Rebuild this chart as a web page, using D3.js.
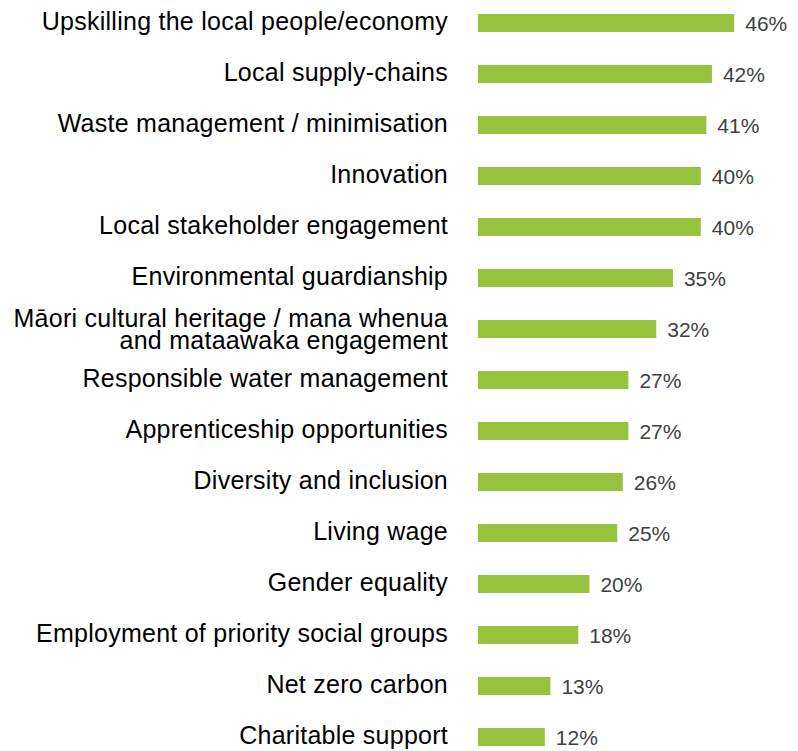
<!DOCTYPE html>
<html>
<head>
<meta charset="utf-8">
<script src="https://cdn.jsdelivr.net/npm/d3@7"></script>
<style>
  html, body { margin: 0; padding: 0; background: #fff; }
  svg { display: block; }
</style>
</head>
<body>
<svg id="chart" width="798" height="751"></svg>
<script>
// Share of respondents selecting each social/environmental outcome
const categories = [
  "Upskilling the local people/economy",
  "Local supply-chains",
  "Waste management / minimisation",
  "Innovation",
  "Local stakeholder engagement",
  "Environmental guardianship",
  "Māori cultural heritage / mana whenua\nand mataawaka engagement",
  "Responsible water management",
  "Apprenticeship opportunities",
  "Diversity and inclusion",
  "Living wage",
  "Gender equality",
  "Employment of priority social groups",
  "Net zero carbon",
  "Charitable support"
];
const values = [46, 42, 41, 40, 40, 35, 32, 27, 27, 26, 25, 20, 18, 13, 12];

const svg = d3.select("#chart");
const barLeft = 478;
const barH = 18;
const font = "Liberation Sans, Arial, sans-serif";

const x = d3.scaleLinear().domain([0, 100]).range([barLeft, barLeft + 557]);
const y = d3.scalePoint().domain(categories).range([23, 737]);

const rows = svg.selectAll("g.row")
  .data(categories.map((c, i) => ({ c, v: values[i] })))
  .join("g")
  .attr("class", "row");

rows.append("rect")
  .attr("x", x(0))
  .attr("y", d => y(d.c) - barH / 2)
  .attr("width", d => x(d.v) - x(0))
  .attr("height", barH)
  .attr("fill", "#97c23d");

rows.append("text")
  .attr("x", d => x(d.v) + 11)
  .attr("y", d => y(d.c))
  .attr("dy", "0.36em")
  .attr("font-family", font)
  .attr("font-size", 21)
  .attr("fill", "#404040")
  .text(d => d.v + "%");

rows.append("text")
  .attr("x", 448)
  .attr("y", d => y(d.c))
  .attr("text-anchor", "end")
  .attr("font-family", font)
  .attr("font-size", 25)
  .attr("letter-spacing", 0.25)
  .attr("fill", "#000")
  .each(function (d) {
    const lines = d.c.split("\n");
    const lh = 22;
    const t = d3.select(this);
    lines.forEach((ln, i) => {
      t.append("tspan")
        .attr("x", 448)
        .attr("dy", i === 0 ? (lines.length > 1 ? -2.5 : 6.5) + "px" : lh + "px")
        .text(ln);
    });
  });
</script>
</body>
</html>
